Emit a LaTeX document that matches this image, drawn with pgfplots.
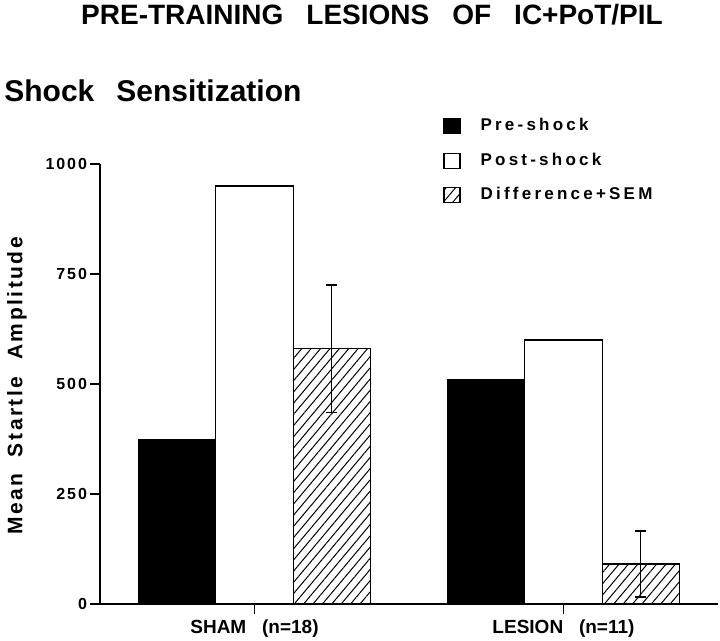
\documentclass[border=0pt]{standalone}
\usepackage{fontspec}
\setmainfont{Liberation Sans}
\newfontfamily\spc{Liberation Sans}[LetterSpace=12]
\newfontfamily\lspc{Liberation Sans}[LetterSpace=19]
\usepackage{pgfplots}
\pgfplotsset{compat=1.18}
\usetikzlibrary{patterns.meta}
\begin{document}
\begin{tikzpicture}
\useasboundingbox (0,0) rectangle (360pt,320.5pt);
\node[font=\bfseries\fontsize{14}{14}\selectfont] at (186pt,313pt) {PRE-TRAINING\hspace{11.5pt}LESIONS\hspace{11.5pt}OF\hspace{11.5pt}IC+PoT/PIL};
\node[anchor=west,font=\bfseries\fontsize{15}{15}\selectfont,inner sep=0pt] at (2pt,275pt) {Shock\hspace{11pt}Sensitization};
\node[rotate=90,font=\spc\bfseries\fontsize{10.5}{10.5}\selectfont] at (8.5pt,127.5pt) {Mean\ \ Startle\ \ Amplitude};
\begin{axis}[
  at={(50pt,18.5pt)}, anchor=south west,
  scale only axis, width=309pt, height=220pt,
  xmin=0.5, xmax=2.5, ymin=0, ymax=1000,
  axis x line*=bottom, axis y line*=left,
  axis line style={line width=0.7pt},
  xtick={1,2}, xticklabels={SHAM\ \ \ (n=18), LESION\ \ \ (n=11)},
  ytick={0,250,500,750,1000},
  tick align=outside, major tick length=5pt,
  tick style={line width=0.7pt, black},
  /pgf/number format/assume math mode=true,
  /pgf/number format/1000 sep={},
  yticklabel style={font=\spc\bfseries\fontsize{8}{8}\selectfont, xshift=2pt},
  xticklabel style={font=\bfseries\fontsize{9.5}{9.5}\selectfont, yshift=0.5pt},
  ybar, bar width=0.25,
  every axis plot/.append style={line width=0.6pt},
  legend style={at={(0.555,1.113)}, anchor=north west, draw=none, fill=none,
    font=\lspc\bfseries\fontsize{8.5}{8.5}\selectfont, row sep=5.5pt,
    cells={anchor=west}, inner sep=0pt,
    /tikz/every odd column/.append style={column sep=8pt}},
  legend image code/.code={\draw[#1,line width=0.6pt] (0pt,-3.75pt) rectangle (8pt,3.75pt);},
]
\addplot[fill=black, draw=black, bar shift=-0.25] coordinates {(1,373) (2,511)};
\addplot[fill=white, draw=black, bar shift=0] coordinates {(1,950) (2,600)};
\addplot[draw=black, pattern={Lines[angle=50,distance=3.6pt,line width=0.5pt]}, bar shift=0.25,
  error bars/.cd, y dir=both, y explicit,
  error bar style={line width=0.6pt, black},
  error mark options={rotate=90, mark size=2.8pt, line width=0.6pt, black}]
  coordinates {(1,580) +- (0,145) (2,91) +- (0,75)};
\legend{Pre-shock, Post-shock, Difference+SEM}
\end{axis}
\end{tikzpicture}
\end{document}
